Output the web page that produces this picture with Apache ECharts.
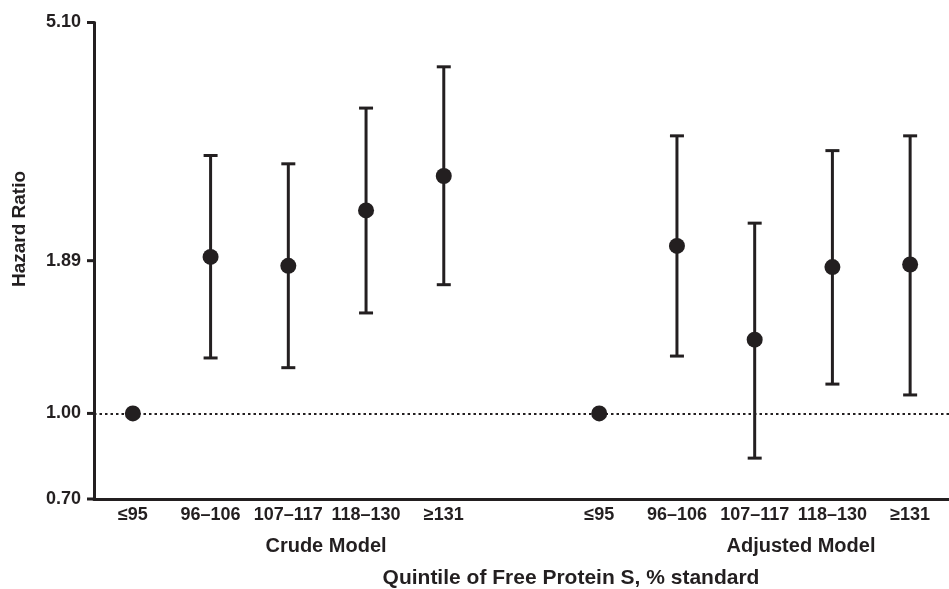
<!DOCTYPE html>
<html>
<head>
<meta charset="utf-8">
<script src="https://cdn.jsdelivr.net/npm/echarts@6/dist/echarts.min.js"></script>
<style>
  html, body { margin: 0; padding: 0; background: #fff; }
  #main { width: 949px; height: 589px; }
</style>
</head>
<body>
<div id="main"></div>
<script>
const categories = ['≤95', '96–106', '107–117', '118–130', '≥131', '', '≤95', '96–106', '107–117', '118–130', '≥131'];
const crudeIdx = [0, 1, 2, 3, 4];
const adjustedIdx = [6, 7, 8, 9, 10];

const crudeHR = [1.00, 1.92, 1.85, 2.33, 2.69];
const crudeLow = [null, 1.26, 1.21, 1.52, 1.71];
const crudeHigh = [null, 2.93, 2.83, 3.57, 4.24];

const adjustedHR = [1.00, 2.01, 1.36, 1.84, 1.86];
const adjustedLow = [null, 1.27, 0.83, 1.13, 1.08];
const adjustedHigh = [null, 3.18, 2.21, 2.99, 3.18];

const yTicks = [0.70, 1.00, 1.89, 5.10];
const yTickLabels = ['0.70', '1.00', '1.89', '5.10'];

const ink = '#231f20';
const fontFam = '"Liberation Sans", Arial, Helvetica, sans-serif';

// points and bars built from the arrays above
let points = [];
let bars = [];
function addGroup(idx, hr, lo, hi) {
  for (let i = 0; i < idx.length; i++) {
    points.push([idx[i], hr[i]]);
    if (lo[i] != null) bars.push([idx[i], lo[i], hi[i]]);
  }
}
addGroup(crudeIdx, crudeHR, crudeLow, crudeHigh);
addGroup(adjustedIdx, adjustedHR, adjustedLow, adjustedHigh);

const chart = echarts.init(document.getElementById('main'));

chart.setOption({
  animation: false,
  backgroundColor: '#fff',
  grid: { left: 94, right: -11, top: 22.5, bottom: 90, containLabel: false },
  xAxis: {
    type: 'category',
    data: categories,
    boundaryGap: true,
    axisLine: { show: true, lineStyle: { color: ink, width: 3 } },
    axisTick: { show: false },
    axisLabel: { color: ink, fontFamily: fontFam, fontWeight: 'bold', fontSize: 18, margin: 7, interval: 0 },
    splitLine: { show: false }
  },
  yAxis: {
    type: 'log',
    logBase: 10,
    min: 0.7,
    max: 5.1,
    axisLine: { show: true, lineStyle: { color: ink, width: 3 } },
    axisTick: { show: false },
    axisLabel: { show: false },
    splitLine: { show: false }
  },
  graphic: [
    { type: 'text', x: 20, y: 229, rotation: Math.PI / 2,
      style: { text: 'Hazard Ratio', fill: ink, font: 'bold 19px ' + fontFam, align: 'center', verticalAlign: 'middle' } },
    { type: 'text', x: 326, y: 546,
      style: { text: 'Crude Model', fill: ink, font: 'bold 20px ' + fontFam, align: 'center', verticalAlign: 'middle' } },
    { type: 'text', x: 801, y: 546,
      style: { text: 'Adjusted Model', fill: ink, font: 'bold 20px ' + fontFam, align: 'center', verticalAlign: 'middle' } },
    { type: 'text', x: 571, y: 578,
      style: { text: 'Quintile of Free Protein S, % standard', fill: ink, font: 'bold 21px ' + fontFam, align: 'center', verticalAlign: 'middle' } }
  ],
  series: [
    {
      // y tick marks + labels on the log scale
      type: 'custom',
      silent: true,
      clip: false,
      data: yTicks.map(function (v) { return [0, v]; }),
      encode: { x: 0, y: 1 },
      renderItem: function (params, api) {
        const p = api.coord([0, api.value(1)]);
        const x0 = params.coordSys.x;
        return {
          type: 'group',
          children: [
            { type: 'line', shape: { x1: x0 - 7, y1: p[1], x2: x0, y2: p[1] },
              style: { stroke: ink, lineWidth: 3 } },
            { type: 'text', x: x0 - 13, y: p[1],
              style: { text: yTickLabels[params.dataIndex], fill: ink, font: 'bold 18px ' + fontFam,
                       align: 'right', verticalAlign: 'middle' } }
          ]
        };
      }
    },
    {
      type: 'custom',
      silent: true,
      data: bars,
      encode: { x: 0, y: [1, 2] },
      renderItem: function (params, api) {
        const lo = api.coord([api.value(0), api.value(1)]);
        const hi = api.coord([api.value(0), api.value(2)]);
        const w = 7;
        const st = { stroke: ink, lineWidth: 3 };
        return {
          type: 'group',
          children: [
            { type: 'line', shape: { x1: lo[0], y1: lo[1], x2: hi[0], y2: hi[1] }, style: st },
            { type: 'line', shape: { x1: hi[0] - w, y1: hi[1], x2: hi[0] + w, y2: hi[1] }, style: st },
            { type: 'line', shape: { x1: lo[0] - w, y1: lo[1], x2: lo[0] + w, y2: lo[1] }, style: st }
          ]
        };
      }
    },
    {
      type: 'scatter',
      data: points,
      symbol: 'circle',
      symbolSize: 16,
      itemStyle: { color: ink, opacity: 1 },
      z: 5,
      markLine: {
        silent: true,
        symbol: 'none',
        label: { show: false },
        lineStyle: { color: ink, type: [2.5, 3], width: 2, opacity: 1 },
        data: [{ yAxis: 1 }]
      }
    }
  ]
});
</script>
</body>
</html>
